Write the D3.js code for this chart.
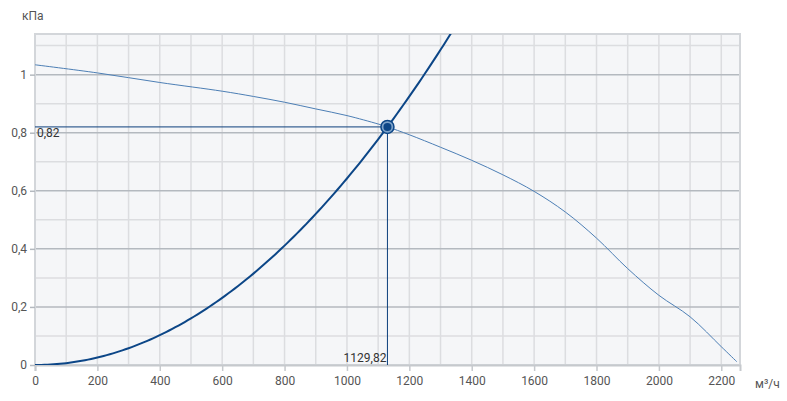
<!DOCTYPE html>
<html><head><meta charset="utf-8">
<script src="https://cdn.jsdelivr.net/npm/d3@7"></script>
<style>body{margin:0;background:#fff;} text{font-family:Roboto,"Open Sans",sans-serif;}</style>
</head><body><svg id="c" width="787" height="401"></svg>
<script>
const fanFlow = [0,200,400,600,700,800,900,1000,1100,1129.82,1200,1300,1400,1500,1600,1700,1800,1900,2000,2100,2200,2250];
const fanPressure = [1.034,1.006,0.973,0.943,0.925,0.905,0.882,0.859,0.83,0.82,0.793,0.75,0.705,0.655,0.598,0.527,0.437,0.332,0.24,0.166,0.063,0.011];
const workFlow = 1129.82;
const workPressure = 0.82;
const xTicks = [0,200,400,600,800,1000,1200,1400,1600,1800,2000,2200];
const yTicks = [0,0.2,0.4,0.6,0.8,1];
const xUnit = "м³/ч", yUnit = "кПа";

const svg = d3.select("#c");
const L=35,R=740,T=34,B=365;
const x = d3.scaleLinear().domain([0,2260]).range([L,R]);
const y = d3.scaleLinear().domain([0,1.14]).range([B,T]);
const fmt = d => String(d).replace(".", ",");

svg.append("rect").attr("x",L).attr("y",T).attr("width",R-L).attr("height",B-T).attr("fill","#f5f6f8");
d3.range(100,2260,100).forEach(v=>{
  svg.append("line").attr("x1",x(v)).attr("x2",x(v)).attr("y1",T).attr("y2",B).attr("stroke","#dcdde0").attr("stroke-width",1.5);
});
d3.range(1,12).forEach(i=>{
  const v=i/10; const major = i%2===0;
  svg.append("line").attr("x1",L).attr("x2",R).attr("y1",y(v)).attr("y2",y(v)).attr("stroke",major?"#b4b9bf":"#dcdde0").attr("stroke-width",1.5);
});
svg.append("rect").attr("x",L).attr("y",T).attr("width",R-L).attr("height",B-T).attr("fill","none").attr("stroke","#d3d6da").attr("stroke-width",2);

const xa = svg.append("g").attr("transform",`translate(0,${B})`).call(d3.axisBottom(x).tickValues(xTicks).tickSize(6).tickPadding(5).tickFormat(d=>d));
xa.select(".domain").attr("stroke","#c6c9cd").attr("stroke-width",2);
xa.selectAll(".tick line").attr("stroke","#c6c9cd").attr("stroke-width",1.5);
xa.selectAll("text").attr("fill","#555").attr("font-size",12).attr("font-family","Roboto");
const ya = svg.append("g").attr("transform",`translate(${L},0)`).call(d3.axisLeft(y).tickValues(yTicks).tickSize(5).tickPadding(3).tickFormat(fmt));
ya.select(".domain").remove();
ya.selectAll(".tick line").attr("stroke","#b4b9bf").attr("stroke-width",1.5);
ya.selectAll("text").attr("fill","#555").attr("font-size",12).attr("font-family","Roboto");

svg.append("text").attr("x",22).attr("y",20).attr("font-size",12).attr("fill","#555").text(yUnit);
svg.append("text").attr("x",755).attr("y",388).attr("font-size",12).attr("fill","#555").text(xUnit);

svg.append("clipPath").attr("id","pc").append("rect").attr("x",L).attr("y",T).attr("width",R-L).attr("height",B-T);

svg.append("path").datum(fanFlow.map((f,i)=>[f,fanPressure[i]]))
  .attr("d",d3.line().x(d=>x(d[0])).y(d=>y(d[1])).curve(d3.curveCatmullRom.alpha(0.5)))
  .attr("fill","none").attr("stroke","#4d7fb5").attr("stroke-width",1);

const k = workPressure/(workFlow*workFlow);
const sysFlow = d3.range(0,1400,10);
svg.append("path").attr("clip-path","url(#pc)").datum(sysFlow.map(f=>[f,k*f*f]))
  .attr("d",d3.line().x(d=>x(d[0])).y(d=>y(d[1])))
  .attr("fill","none").attr("stroke","#0c4687").attr("stroke-width",2);

svg.append("line").attr("x1",x(0)).attr("x2",x(workFlow)).attr("y1",y(workPressure)).attr("y2",y(workPressure)).attr("stroke","#0c3f7c").attr("stroke-width",1);
svg.append("line").attr("x1",x(workFlow)).attr("x2",x(workFlow)).attr("y1",y(workPressure)).attr("y2",y(0)).attr("stroke","#0c3f7c").attr("stroke-width",1);
svg.append("text").attr("x",x(0)+2).attr("y",y(workPressure)+10).attr("font-size",12).attr("fill","#333").text(fmt(workPressure));
svg.append("text").attr("x",x(workFlow)-1).attr("y",y(0)-3).attr("text-anchor","end").attr("font-size",12).attr("fill","#333").text(fmt(workFlow));

svg.append("circle").attr("cx",x(workFlow)).attr("cy",y(workPressure)).attr("r",6.5).attr("fill","#7da2c9").attr("stroke","#0c4687").attr("stroke-width",1.5);
svg.append("circle").attr("cx",x(workFlow)).attr("cy",y(workPressure)).attr("r",4).attr("fill","#0c4687");
</script></body></html>
